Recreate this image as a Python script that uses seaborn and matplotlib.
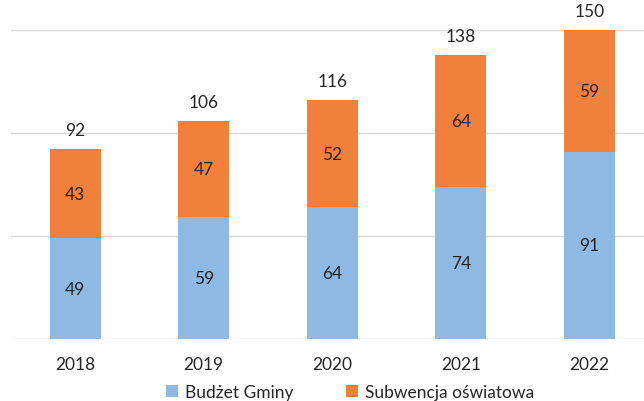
import matplotlib
matplotlib.use("Agg")
import matplotlib.pyplot as plt
import seaborn as sns
import pandas as pd
from matplotlib.patches import Patch

years = ["2018", "2019", "2020", "2021", "2022"]
budzet = [49, 59, 64, 74, 91]
subwencja = [43, 47, 52, 64, 59]
totals = [92, 106, 116, 138, 150]
series_names = ["Budżet Gminy", "Subwencja oświatowa"]

BLUE = "#8DB9E2"
ORANGE = "#F0803C"
TEXT = "#262626"

sns.set_theme(style="white")
plt.rcParams["font.family"] = ["Lato", "DejaVu Sans"]

df = pd.DataFrame({"year": years, "budzet": budzet, "sub": subwencja})
df["stack"] = df["budzet"] + df["sub"]

fig = plt.figure(figsize=(6.44, 4.02), dpi=100)
ax = fig.add_axes([11 / 644, 62 / 402, 642.5 / 644, 309 / 402])

sns.barplot(data=df, x="year", y="stack", color=ORANGE, width=0.4,
            saturation=1, ax=ax, zorder=3, linewidth=0, edgecolor="none")
sns.barplot(data=df, x="year", y="budzet", color=BLUE, width=0.4,
            saturation=1, ax=ax, zorder=3, linewidth=0, edgecolor="none")

ax.set_ylim(0, 150)
ax.set_xlim(-0.5, 4.5)
ax.set_yticks([0, 50, 100, 150])
ax.yaxis.grid(True, color="#D9D9D9", linewidth=1.0, zorder=0)
ax.set_yticklabels([])
ax.tick_params(axis="y", length=0)
ax.tick_params(axis="x", length=0, pad=12, labelsize=12.5, labelcolor=TEXT)
ax.set_xlabel("")
ax.set_ylabel("")
for s in ax.spines.values():
    s.set_visible(False)

for i, (b, s, t) in enumerate(zip(budzet, subwencja, totals)):
    ax.text(i, b / 2, str(b), ha="center", va="center", fontsize=12.5, color=TEXT, zorder=5)
    ax.text(i, b + s / 2, str(s), ha="center", va="center", fontsize=12.5, color=TEXT, zorder=5)
    ax.annotate(str(t), (i, b + s), xytext=(0, 8), textcoords="offset points",
                ha="center", va="bottom", fontsize=12.5, color=TEXT, clip_on=False,
                annotation_clip=False)

handles = [Patch(facecolor=BLUE, edgecolor="none"), Patch(facecolor=ORANGE, edgecolor="none")]
fig.legend(handles, series_names, loc="center", bbox_to_anchor=(350 / 644, 1 - 393 / 402),
           ncol=2, frameon=False, fontsize=12.5, handlelength=0.7, handleheight=0.7,
           columnspacing=3.0, handletextpad=0.4, labelcolor=TEXT)

fig.savefig("out.png", dpi=100)
